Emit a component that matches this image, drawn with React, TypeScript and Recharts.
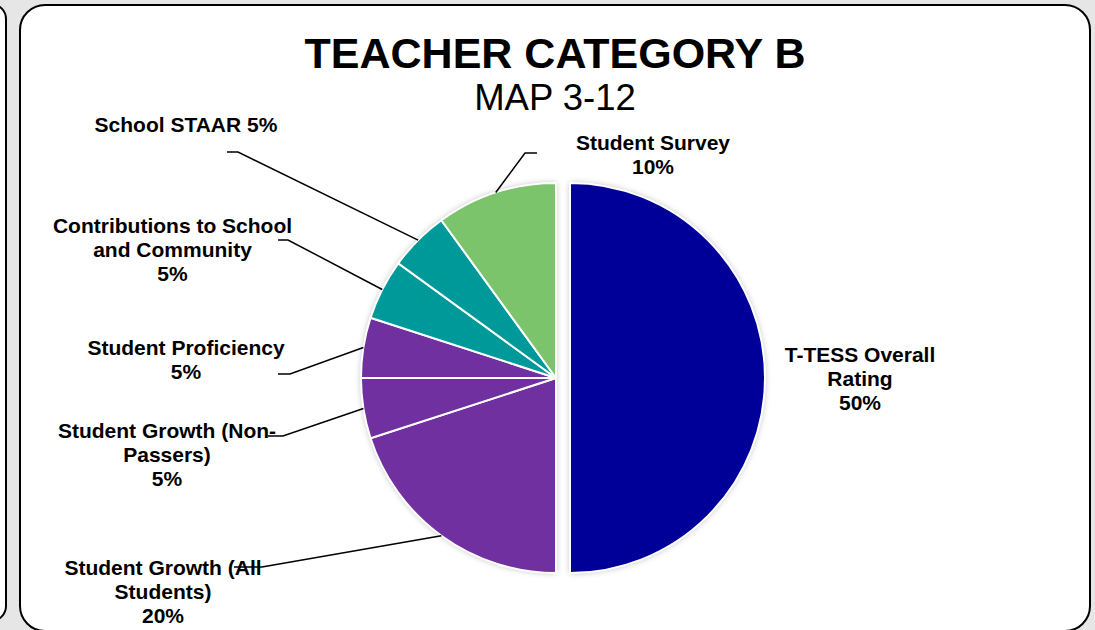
import { PieChart, Pie, Cell } from 'recharts'

const CATEGORIES = [
  'T-TESS Overall Rating',
  'Student Growth (All Students)',
  'Student Growth (Non-Passers)',
  'Student Proficiency',
  'Contributions to School and Community',
  'School STAAR',
  'Student Survey',
]

const WEIGHTS = [50, 20, 5, 5, 5, 5, 10]

// how each category name wraps in its label
const LABEL_TEXT = [
  ['T-TESS Overall', 'Rating'],
  ['Student Growth (All', 'Students)'],
  ['Student Growth (Non-', 'Passers)'],
  ['Student Proficiency'],
  ['Contributions to School', 'and Community'],
  ['School STAAR'],
  ['Student Survey'],
]

const COLORS = ['#000099', '#7030A0', '#7030A0', '#7030A0', '#009999', '#009999', '#7CC46C']

// label placement: text centre x, first baseline, leader elbow + tail end
const LABEL_POS = [
  { x: 860, y: 361.5, leader: null },
  { x: 163, y: 575, leader: [[262, 567], [234, 567]] },
  { x: 167, y: 438, leader: [[283, 436], [268, 436]] },
  { x: 186, y: 354.5, leader: [[290, 374], [278, 374]] },
  { x: 172.5, y: 233, leader: [[288, 240], [278, 240]] },
  { x: 186, y: 132, inline: true, leader: [[238, 152], [227, 152]] },
  { x: 653, y: 150, leader: [[525, 153], [537, 153]] },
]

const FONT = '"Liberation Sans", Arial, sans-serif'
const CX = 556
const CY = 378
const R = 195
const EXPLODE = 14
const LINE_GAP = 24
const RAD = Math.PI / 180

const data = CATEGORIES.map((name, i) => ({ name, value: WEIGHTS[i] }))

function renderLabel(props: any) {
  const { cx, cy, midAngle, outerRadius, index, value } = props
  const pos = LABEL_POS[index]
  const lines = [...LABEL_TEXT[index]]
  if (pos.inline) lines[lines.length - 1] += ` ${value}%`
  else lines.push(`${value}%`)

  const ax = cx + outerRadius * Math.cos(-midAngle * RAD)
  const ay = cy + outerRadius * Math.sin(-midAngle * RAD)

  return (
    <g key={`lbl-${index}`}>
      <text
        textAnchor='middle'
        fontFamily={FONT}
        fontWeight='bold'
        fontSize={21}
        fill='#000'
      >
        {lines.map((t, i) => (
          <tspan key={i} x={pos.x} y={pos.y + i * LINE_GAP}>
            {t}
          </tspan>
        ))}
      </text>
      {pos.leader && (
        <polyline
          points={`${ax},${ay} ${pos.leader[0][0]},${pos.leader[0][1]} ${pos.leader[1][0]},${pos.leader[1][1]}`}
          fill='none'
          stroke='#000'
          strokeWidth={1.5}
        />
      )}
    </g>
  )
}

export default function App() {
  return (
    <div
      style={{
        position: 'fixed',
        left: 0,
        top: 0,
        width: 1095,
        height: 630,
        background: '#e6e6e6',
        overflow: 'hidden',
      }}
    >
      <svg width={0} height={0} style={{ position: 'absolute' }}>
        <defs>
          <filter id='pieShadow' x='-10%' y='-10%' width='120%' height='120%'>
            <feGaussianBlur stdDeviation={3} />
          </filter>
        </defs>
      </svg>

      {/* neighbouring panel, mostly off screen */}
      <div
        style={{
          position: 'absolute',
          left: -40,
          top: 3,
          width: 43,
          height: 615,
          background: '#fff',
          border: '2px solid #000',
          borderRadius: 16,
        }}
      />
      <div
        style={{
          position: 'absolute',
          left: 19,
          top: 4,
          width: 1068,
          height: 624,
          background: '#fff',
          border: '2px solid #000',
          borderRadius: 26,
        }}
      />

      <div
        style={{
          position: 'absolute',
          left: 0,
          top: 0,
          width: 1095,
          height: 630,
          fontFamily: FONT,
        }}
      >
        <div
          style={{
            position: 'absolute',
            left: 0,
            width: 1110,
            top: 28,
            textAlign: 'center',
            fontWeight: 'bold',
            fontSize: 43,
            lineHeight: '50px',
          }}
        >
          TEACHER CATEGORY B
        </div>
        <div
          style={{
            position: 'absolute',
            left: 0,
            width: 1110,
            top: 78,
            textAlign: 'center',
            fontSize: 36.5,
            lineHeight: '40px',
          }}
        >
          MAP 3-12
        </div>
      </div>

      <div style={{ position: 'absolute', left: 0, top: 0 }}>
        <PieChart width={1095} height={630} margin={{ top: 0, right: 0, bottom: 0, left: 0 }}>
          {/* soft shadow under the pie */}
          <Pie
            data={data}
            dataKey='value'
            nameKey='name'
            cx={CX}
            cy={CY}
            outerRadius={R}
            startAngle={90}
            endAngle={-270}
            stroke='none'
            label={false}
            labelLine={false}
            isAnimationActive={false}
          >
            {data.map((_, i) => (
              <Cell
                key={`s-${i}`}
                fill={i === 0 ? 'none' : '#000'}
                fillOpacity={0.28}
                filter='url(#pieShadow)'
              />
            ))}
          </Pie>
          <Pie
            data={data}
            dataKey='value'
            nameKey='name'
            cx={CX + EXPLODE}
            cy={CY}
            outerRadius={R}
            startAngle={90}
            endAngle={-270}
            stroke='none'
            label={false}
            labelLine={false}
            isAnimationActive={false}
          >
            {data.map((_, i) => (
              <Cell
                key={`se-${i}`}
                fill={i === 0 ? '#000' : 'none'}
                fillOpacity={0.28}
                filter='url(#pieShadow)'
              />
            ))}
          </Pie>

          <Pie
            data={data}
            dataKey='value'
            nameKey='name'
            cx={CX}
            cy={CY}
            outerRadius={R}
            startAngle={90}
            endAngle={-270}
            stroke='#fff'
            strokeWidth={2}
            labelLine={false}
            label={(p: any) => (p.index === 0 ? null : renderLabel(p))}
            isAnimationActive={false}
          >
            {data.map((_, i) => (
              <Cell
                key={`c-${i}`}
                fill={i === 0 ? 'none' : COLORS[i]}
                stroke={i === 0 ? 'none' : '#fff'}
              />
            ))}
          </Pie>
          {/* T-TESS slice pulled out to the right */}
          <Pie
            data={data}
            dataKey='value'
            nameKey='name'
            cx={CX + EXPLODE}
            cy={CY}
            outerRadius={R}
            startAngle={90}
            endAngle={-270}
            stroke='#fff'
            strokeWidth={2}
            labelLine={false}
            label={(p: any) => (p.index === 0 ? renderLabel(p) : null)}
            isAnimationActive={false}
          >
            {data.map((_, i) => (
              <Cell
                key={`e-${i}`}
                fill={i === 0 ? COLORS[0] : 'none'}
                stroke={i === 0 ? '#fff' : 'none'}
              />
            ))}
          </Pie>
        </PieChart>
      </div>
    </div>
  )
}
